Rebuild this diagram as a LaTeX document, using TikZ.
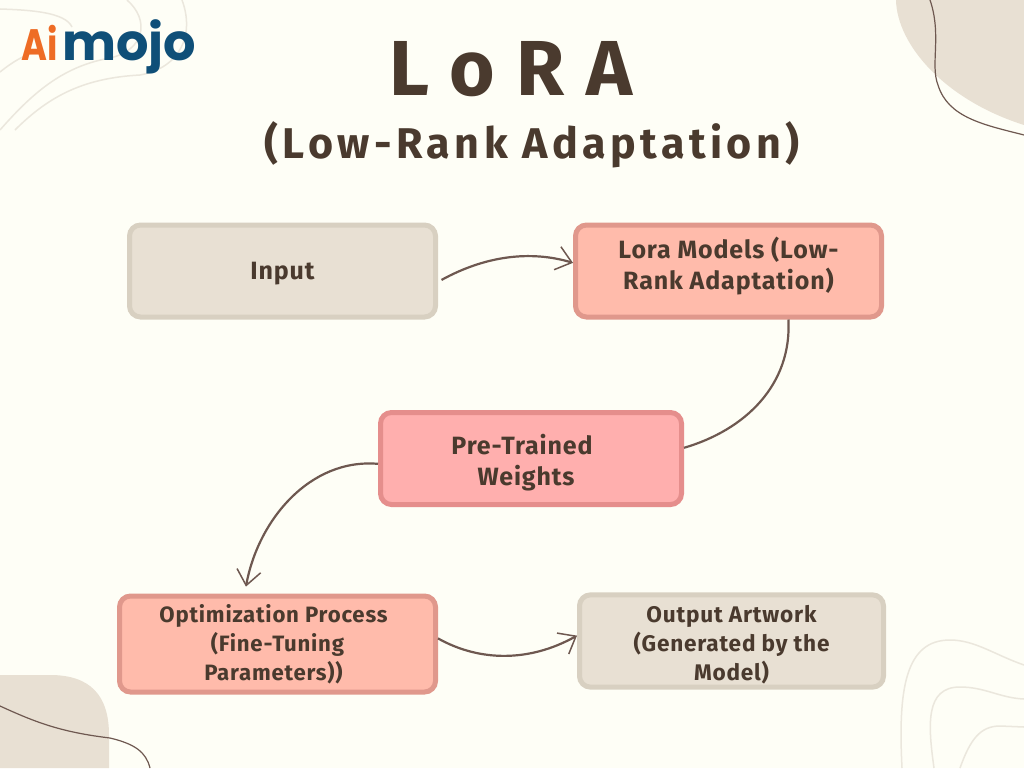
\documentclass[tikz,border=0pt]{standalone}
\usepackage{fontspec}
\usetikzlibrary{arrows.meta}
\setmainfont{Fira Sans}
\newfontfamily\titlefont[LetterSpace=28]{Fira Sans}
\newfontfamily\subfont[LetterSpace=10.3]{Fira Sans}
\newfontfamily\boxfont[LetterSpace=3.5]{Fira Sans}
\newfontfamily\logofont{Poppins}
\definecolor{paper}{HTML}{FEFEF6}
\definecolor{blob}{HTML}{E8E0D3}
\definecolor{faint}{HTML}{EBE7DD}
\definecolor{ink}{HTML}{4A3A2E}
\definecolor{wire}{HTML}{6E5850}
\definecolor{sand}{HTML}{D8D0C1}
\definecolor{salmon}{HTML}{FFBBAB}
\definecolor{salmonline}{HTML}{E0988C}
\definecolor{rose}{HTML}{FFAFAE}
\definecolor{roseline}{HTML}{E58E8C}
\definecolor{logoorange}{HTML}{EE6C25}
\definecolor{logoblue}{HTML}{0F4F78}
\tikzset{
  box/.style={rounded corners=11pt,line width=5pt,minimum width=306pt,minimum height=92pt,
    align=center,text=ink,font=\boxfont\bfseries\fontsize{25}{31}\selectfont},
  smallbox/.style={font=\boxfont\bfseries\fontsize{22.2}{29}\selectfont},
  plainbox/.style={box,draw=sand,fill=blob},
  salmonbox/.style={box,draw=salmonline,fill=salmon},
  rosebox/.style={box,draw=roseline,fill=rose},
  link/.style={wire,line width=2.2pt,-{Straight Barb[length=15pt,width=24pt,line width=1.5pt]}},
  faintline/.style={faint,line width=1.5pt},
  darkline/.style={wire,line width=1.2pt}
}
\begin{document}
\begin{tikzpicture}[x=1pt,y=-1pt]
	\useasboundingbox (0,0) rectangle (1024,768);
	\fill[paper] (0,0) rectangle (1024,768);
	% Flecken
	\fill[blob] (896,0) .. controls (897,45) and (945,100) .. (1024,125) -- (1024,0) -- cycle;
	\fill[blob] (0,675) -- (50,675) .. controls (90,675) and (109,695) .. (109,735) -- (109,768) -- (0,768) -- cycle;
	\draw[darkline] (930,0) .. controls (942,35) and (930,65) .. (938,85) .. controls (948,118) and (985,125) .. (1024,135);
	\draw[darkline] (0,706) .. controls (35,722) and (60,732) .. (110,738) .. controls (135,744) and (146,752) .. (150,768);
	% Linien
	\draw[faintline] (0,9) .. controls (30,10) and (65,12) .. (72,27);
	\draw[faintline] (0,72) .. controls (15,60) and (25,55) .. (40,50);
	\draw[faintline] (127,0) .. controls (150,20) and (145,50) .. (110,58) .. controls (65,66) and (35,90) .. (0,130);
	\draw[faintline] (182,0) .. controls (195,35) and (180,68) .. (140,75) .. controls (85,78) and (50,95) .. (15,130);
	\draw[faintline] (902,768) .. controls (898,690) and (905,640) .. (950,640) .. controls (975,640) and (995,655) .. (1024,665);
	\draw[faintline] (934,768) .. controls (928,725) and (925,687) .. (960,687) .. controls (985,687) and (1000,698) .. (1024,699);
	\draw[faintline] (960,768) .. controls (970,740) and (980,726) .. (1000,726) -- (1024,727);
	% Logo
	\node[anchor=base east,inner sep=0pt,xscale=0.8,text=logoorange,font=\logofont\bfseries\fontsize{44}{44}\selectfont] (logoai) at (58,60) {Ai};
	\node[anchor=base west,inner sep=0pt,text=logoblue,font=\logofont\bfseries\fontsize{51}{51}\selectfont] (logomojo) at (62,60) {mojo};
	% Titel
	\node[anchor=base,inner sep=0pt,text=ink,font=\titlefont\bfseries\fontsize{78}{78}\selectfont] (title) at (511,95) {LoRA};
	\node[anchor=base,inner sep=0pt,text=ink,font=\subfont\bfseries\fontsize{43}{43}\selectfont] (subtitle) at (532,158) {(Low-Rank Adaptation)};
	% Boxen
	\node[plainbox] (input) at (282.5,271) {\rule{0pt}{22pt}Input};
	\node[salmonbox] (lora) at (728.5,271) {Lora Models (Low-\\Rank Adaptation)\\[-25pt]\strut};
	\node[rosebox,minimum width=301pt] (weights) at (531,458.5) {\rule{0pt}{29pt}Pre-Trained\hspace*{18pt}\\Weights\hspace*{10pt}};
	\node[salmonbox,smallbox,minimum width=316pt,minimum height=96pt] (optim) at (277.5,644) {Optimization Process\hspace*{8pt}\\(Fine-Tuning\hspace*{8pt}\\Parameters))\hspace*{8pt}};
	\node[plainbox,smallbox,font=\boxfont\bfseries\fontsize{22.6}{29}\selectfont,minimum width=304pt] (output) at (731.5,641) {\rule{0pt}{24pt}Output Artwork\\(Generated by the\\Model)};
	% Pfeile
	\draw[link,shorten <=4pt] (input.-4) .. controls (485,256) and (530,250) .. (lora.177);
	\draw[link,-] (lora.-39) .. controls (792,385) and (745,430) .. (weights.4);
	\draw[link,shorten >=7pt] (weights.-178) .. controls (310,458) and (258,520) .. (optim.123);
	\draw[link] (optim.2) .. controls (480,662) and (530,662) .. (output.178);
\end{tikzpicture}
\end{document}
